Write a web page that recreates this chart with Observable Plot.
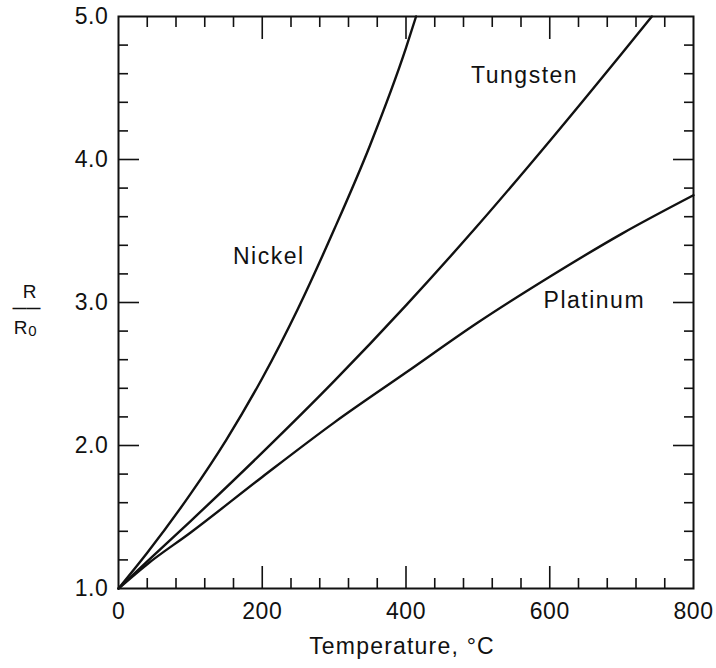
<!DOCTYPE html>
<html>
<head>
<meta charset="utf-8">
<script src="https://cdn.jsdelivr.net/npm/d3@7"></script>
<script src="https://cdn.jsdelivr.net/npm/@observablehq/plot@0.6"></script>
<style>
  html, body { margin: 0; padding: 0; background: #fff; }
  #chart svg { display: block; }
</style>
</head>
<body>
<div id="chart"></div>
<script>
// Series values (temperature in °C, ratio R/R0)
const nickelT    = [0, 40, 100, 150, 200, 250, 300, 350, 400, 414];
const nickelR    = [1.00, 1.25, 1.66, 2.04, 2.47, 2.96, 3.51, 4.10, 4.78, 5.00];
const tungstenT  = [0, 40, 100, 200, 300, 400, 500, 600, 700, 742];
const tungstenR  = [1.00, 1.19, 1.47, 1.95, 2.45, 2.98, 3.54, 4.13, 4.74, 5.00];
const platinumT  = [0, 40, 100, 200, 300, 400, 500, 600, 700, 800];
const platinumR  = [1.00, 1.17, 1.39, 1.78, 2.16, 2.51, 2.86, 3.18, 3.48, 3.75];

// Curve labels and their anchor positions (data units)
const labelNames = ["Nickel", "Tungsten", "Platinum"];
const labelT     = [209, 565, 662];
const labelR     = [3.32, 4.59, 3.01];

// Tick values
const xTickLabels = [0, 200, 400, 600, 800];
const xMajorTicks = [200, 400, 600];
const xMinorTicks = [40, 80, 120, 160, 240, 280, 320, 360, 440, 480, 520, 560, 640, 680, 720, 760];
const yTickLabels = [1, 2, 3, 4, 5];
const yMajorTicks = [2, 3, 4];
const yMinorTicks = [1.2, 1.4, 1.6, 1.8, 2.2, 2.4, 2.6, 2.8, 3.2, 3.4, 3.6, 3.8, 4.2, 4.4, 4.6, 4.8];

const xTitle = "Temperature, \u00B0C";

const series = [
  ["Nickel", nickelT, nickelR],
  ["Tungsten", tungstenT, tungstenR],
  ["Platinum", platinumT, platinumR]
];
const rows = series.flatMap(([metal, T, R]) => T.map((t, i) => ({metal, T: t, R: R[i]})));
const labels = labelNames.map((name, i) => ({name, T: labelT[i], R: labelR[i]}));

const font = "'Liberation Sans', Arial, Helvetica, sans-serif";
const ink = "#111";

const tickAxis = (fn, values, anchor, size) =>
  fn(values, {anchor, tickSize: -size, fill: "none", stroke: ink, strokeWidth: 1.6, label: null});

const chart = Plot.plot({
  width: 716,
  height: 668,
  marginLeft: 118,
  marginRight: 23,
  marginTop: 16,
  marginBottom: 80,
  style: {fontFamily: font, fontSize: "23px", color: ink, background: "#fff"},
  x: {domain: [0, 800], axis: null},
  y: {domain: [1, 5], axis: null},
  marks: [
    // inward ticks on all four sides
    tickAxis(Plot.axisX, xMinorTicks, "bottom", 10),
    tickAxis(Plot.axisX, xMajorTicks, "bottom", 22),
    tickAxis(Plot.axisX, xMinorTicks, "top", 10),
    tickAxis(Plot.axisX, xMajorTicks, "top", 22),
    tickAxis(Plot.axisY, yMinorTicks, "left", 10),
    tickAxis(Plot.axisY, yMajorTicks, "left", 21),
    tickAxis(Plot.axisY, yMinorTicks, "right", 10),
    tickAxis(Plot.axisY, yMajorTicks, "right", 21),
    // tick labels
    Plot.axisX(xTickLabels, {anchor: "bottom", tickSize: 0, tickPadding: 14, label: null,
      fontSize: 23, fill: ink, tickFormat: d => String(d)}),
    Plot.axisY(yTickLabels, {anchor: "left", tickSize: 0, tickPadding: 10, label: null,
      fontSize: 23, fill: ink, tickFormat: d => d.toFixed(1)}),
    // curves
    Plot.line(rows, {x: "T", y: "R", z: "metal", curve: "monotone-x",
      stroke: ink, strokeWidth: 2.4}),
    // curve labels
    Plot.text(labels, {x: "T", y: "R", text: "name", fontSize: 23, fill: ink, lineAnchor: "middle"}),
    // frame
    Plot.frame({stroke: ink, strokeWidth: 2}),
    // x-axis title
    Plot.text([xTitle], {frameAnchor: "bottom", textAnchor: "middle", dy: 58, dx: -4,
      fontSize: 23, fill: ink, lineAnchor: "middle"}),
    // y-axis title: R / R0 as a fraction
    Plot.text(["R"], {frameAnchor: "left", textAnchor: "middle", dx: -89, dy: -11, fontSize: 19,
      fill: ink, lineAnchor: "middle"}),
    Plot.text(["\u2014\u2014"], {frameAnchor: "left", textAnchor: "middle", dx: -92, dy: 6, fontSize: 14,
      fontWeight: "bold", fill: ink, lineAnchor: "middle"}),
    Plot.text(["R"], {frameAnchor: "left", textAnchor: "middle", dx: -98, dy: 25, fontSize: 19,
      fill: ink, lineAnchor: "middle"}),
    Plot.text(["0"], {frameAnchor: "left", textAnchor: "middle", dx: -86, dy: 29, fontSize: 15,
      fill: ink, lineAnchor: "middle"})
  ]
});

// typographic tracking to match the reference's wide-set lettering
d3.select(chart).selectAll("text").each(function () {
  const t = this.textContent;
  let ls = null;
  if (labelNames.includes(t)) ls = "1.5px";
  else if (t === xTitle) ls = "1.2px";
  else if (/^[0-9.]+$/.test(t) && t.length > 1) ls = "0.6px";
  if (ls) d3.select(this).attr("letter-spacing", ls).style("letter-spacing", ls);
});

document.getElementById("chart").appendChild(chart);
</script>
</body>
</html>
